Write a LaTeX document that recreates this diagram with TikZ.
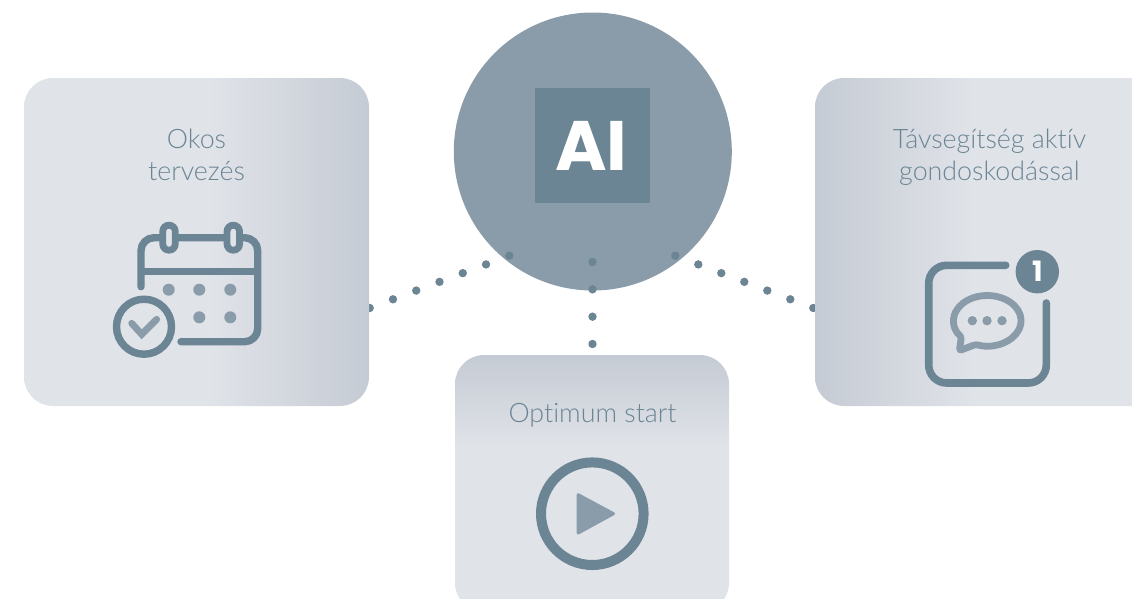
\documentclass[tikz,border=0pt]{standalone}
\usepackage{fontspec}
\setmainfont{Lato Light}[RawFeature=-liga]
\newfontfamily\aifont{Poppins}
\usetikzlibrary{calc}
\definecolor{dk}{HTML}{6B8594}
\definecolor{lt}{HTML}{8A9BA9}
\definecolor{cl}{HTML}{E0E3E8}
\definecolor{cd}{HTML}{C5CBD4}
\pgfdeclarehorizontalshading{cardleft}{100bp}{color(0bp)=(cl); color(25bp)=(cl); color(52bp)=(cl); color(75bp)=(cd); color(100bp)=(cd)}
\pgfdeclarehorizontalshading{cardright}{100bp}{color(0bp)=(cd); color(25bp)=(cd); color(47bp)=(cl); color(75bp)=(cl); color(100bp)=(cl)}
\pgfdeclareverticalshading{cardbottom}{100bp}{color(0bp)=(cl); color(25bp)=(cl); color(57bp)=(cl); color(75bp)=(cd); color(100bp)=(cd)}
\tikzset{
  card/.style={rectangle,rounded corners=29pt,inner sep=0pt,draw=none},
  lbl/.style={text=dk,font=\fontsize{26.8}{31}\selectfont,anchor=base,inner sep=0pt},
  thick stroke/.style={draw=dk,line width=7.4pt,line cap=round,line join=round},
  soft stroke/.style={draw=lt,line width=6.8pt,line cap=round,line join=round},
  ring/.style={draw=dk,fill=cl,line width=6.8pt,rectangle,rounded corners=6.2pt,minimum width=12.5pt,minimum height=25pt,inner sep=0pt},
  softdot/.style={circle,fill=lt,inner sep=0pt,minimum size=12pt},
  linkdot/.style={circle,fill=dk,inner sep=0pt,minimum size=8.4pt},
}
\begin{document}
\begin{tikzpicture}[x=1pt,y=-1pt]
\useasboundingbox (0,0) rectangle (1132,598);
\clip (0,0) rectangle (1132,598);
% hub
\node[circle,fill=lt,inner sep=0pt,minimum size=278pt] (hub) at (592.8,151.5) {};
\node[rectangle,fill=dk,inner sep=0pt,minimum size=115pt] (ai) at (592.5,145.5) {};
\node[text=white,inner sep=0pt,anchor=base,font=\aifont\bfseries\fontsize{70}{70}\selectfont] (ailabel) at (591.3,170) {AI};
% connector end points
\coordinate (la) at (509.3,255.7);
\coordinate (lb) at (369.7,308);
\coordinate (ra) at (675.3,255.7);
\coordinate (rb) at (813.3,308);
\coordinate (ca) at (592.5,262);
\coordinate (cb) at (592.5,344);
\foreach \i in {0,...,6} {
  \node[linkdot] (ldot\i) at ($(la)!\i/6!(lb)$) {};
  \node[linkdot] (rdot\i) at ($(ra)!\i/6!(rb)$) {};
}
\foreach \i in {0,...,3} {
  \node[linkdot] (cdot\i) at ($(ca)!\i/3!(cb)$) {};
}
% cards
\node[card,shading=cardleft,minimum width=345pt,minimum height=328pt] (left) at (196.5,242) {};
\node[card,shading=cardright,minimum width=360pt,minimum height=328pt] (right) at (995,242) {};
\node[card,shading=cardbottom,minimum width=274pt,minimum height=257pt] (bottom) at (592,483.5) {};
% labels
\node[lbl] (l1) at (196.5,148) {Okos};
\node[lbl] (l2) at (196.5,180) {tervezés};
\node[lbl] (r1) at (989.5,148) {Távsegítség aktív};
\node[lbl] (r2) at (989.5,180) {gondoskodással};
\node[lbl] (b1) at (592.5,422) {Optimum start};
% calendar icon
\draw[thick stroke,rounded corners=13pt] (141,286.7) -- (141,237.7) -- (257.7,237.7) -- (257.7,341.7) -- (181,341.7);
\draw[thick stroke,line cap=butt] (141,271.7) -- (257.7,271.7);
\node[ring] (ring1) at (169,237.7) {};
\node[ring] (ring2) at (233.3,237.7) {};
\foreach \p/\n in {168.7/a,199.3/b,230.3/c} \node[softdot] (top\n) at (\p,289.7) {};
\foreach \p/\n in {199.3/b,230.3/c} \node[softdot] (low\n) at (\p,317.3) {};
\node[circle,draw=dk,line width=7.4pt,inner sep=0pt,minimum size=55pt] (badge) at (144,326.7) {};
\draw[soft stroke,line join=miter] (131.7,323.3) -- (141.7,334.3) -- (156.7,319.3);
% chat icon
\draw[thick stroke,line width=7.6pt,rounded corners=18pt] (1005.7,265.3) -- (928.7,265.3) -- (928.7,383) -- (1046.3,383) -- (1046.3,303);
\node[circle,fill=dk,inner sep=0pt,minimum size=43.4pt] (one) at (1037.3,271.7) {};
\node[text=white,inner sep=0pt,font=\aifont\bfseries\fontsize{28}{28}\selectfont] (onelabel) at (1037.3,271.7) {1};
\draw[soft stroke,rounded corners=2.5pt] ([shift={(110:33.8 and 25.2)}]987.3,320.7) arc[start angle=110,end angle=-220,x radius=33.8,y radius=25.2] -- (959.3,350.7) -- cycle;
\foreach \p/\n in {972.3/a,987/b,1002/c} \node[circle,fill=lt,inner sep=0pt,minimum size=9.4pt] (chat\n) at (\p,320.7) {};
% play icon
\node[circle,draw=dk,line width=10pt,inner sep=0pt,minimum size=102.6pt] (play) at (592.3,513.7) {};
\fill[lt,draw=lt,line width=3pt,line join=round] (578.2,494.7) -- (578.2,533) -- (613.5,513.7) -- cycle;
\end{tikzpicture}
\end{document}
